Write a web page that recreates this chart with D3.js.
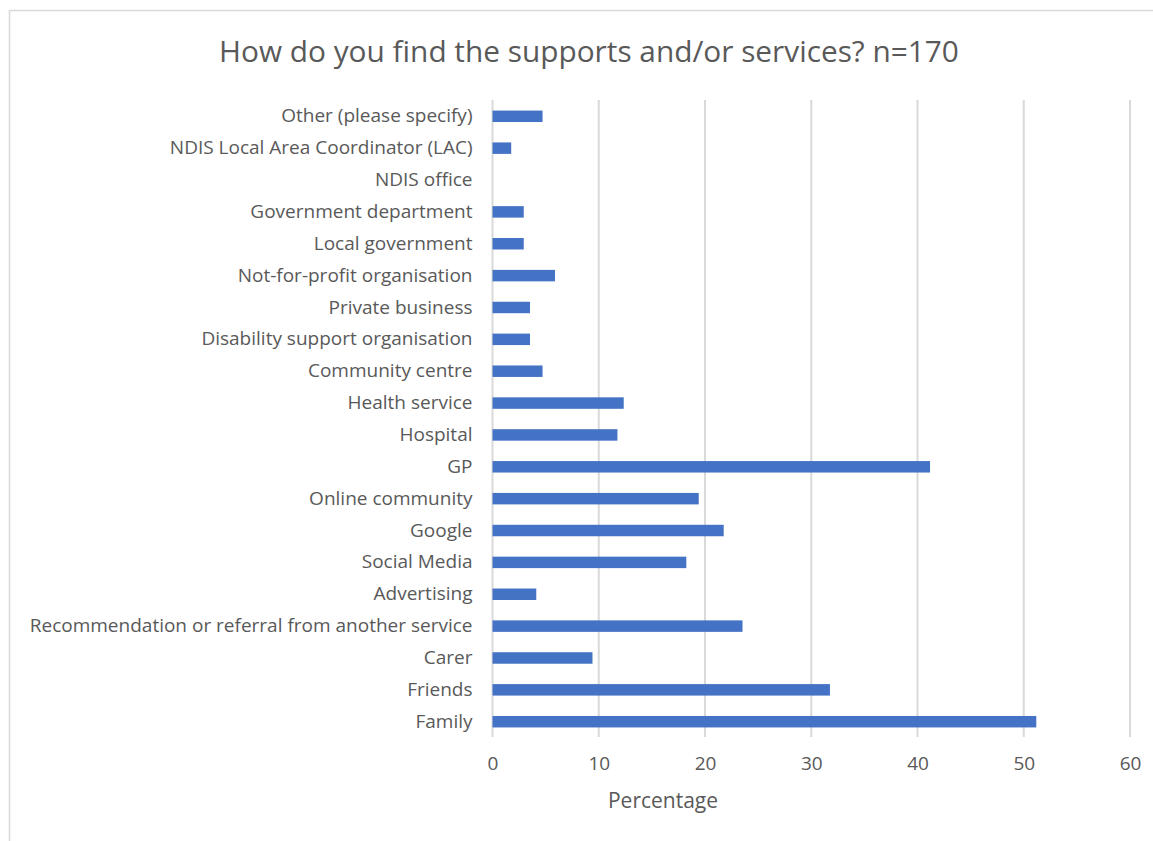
<!DOCTYPE html>
<html>
<head>
<meta charset="utf-8">
<script src="https://cdn.jsdelivr.net/npm/d3@7"></script>
<style>
  body { margin: 0; background: #fff; }
  text { font-family: "Open Sans", sans-serif; fill: #595959; }
</style>
</head>
<body>
<div class="chart"></div>
<script>
const categories = [
  'Other (please specify)',
  'NDIS Local Area Coordinator (LAC)',
  'NDIS office',
  'Government department',
  'Local government',
  'Not-for-profit organisation',
  'Private business',
  'Disability support organisation',
  'Community centre',
  'Health service',
  'Hospital',
  'GP',
  'Online community',
  'Google',
  'Social Media',
  'Advertising',
  'Recommendation or referral from another service',
  'Carer',
  'Friends',
  'Family'
]

// percentages (n=170)
const values = [4.71, 1.76, 0, 2.94, 2.94, 5.88, 3.53, 3.53, 4.71, 12.35, 11.76, 41.18,
  19.41, 21.76, 18.24, 4.12, 23.53, 9.41, 31.76, 51.18]

const xTicks = [0, 10, 20, 30, 40, 50, 60]
const title = 'How do you find the supports and/or services? n=170'
const xTitle = 'Percentage'

const svg = d3.select('.chart').append('svg')
  .attr('width', 1153)
  .attr('height', 841)

// chart frame
svg.append('rect')
  .attr('x', 9.5).attr('y', 10.5)
  .attr('width', 1160).attr('height', 850)
  .attr('fill', 'none')
  .attr('stroke', '#d9d9d9')
  .attr('stroke-width', 1.5)

const margin = {top: 101, left: 492.5}

const g = svg.append('g')
  .attr('transform', `translate(${margin.left}, ${margin.top})`)

const x = d3.scaleLinear()
  .domain([0, 60])
  .range([0, 1130 - margin.left])

const y = d3.scaleBand()
  .domain(categories)
  .range([0, 737 - margin.top])
  .paddingInner(0.64)
  .paddingOuter(0.3)

// gridlines
g.selectAll('.grid')
  .data(xTicks)
  .enter()
  .append('line')
  .attr('class', 'grid')
  .attr('x1', d => x(d)).attr('x2', d => x(d))
  .attr('y1', -1).attr('y2', y.range()[1])
  .attr('stroke', '#d9d9d9')
  .attr('stroke-width', 2)

// bars
g.selectAll('.bar')
  .data(categories)
  .enter()
  .append('rect')
  .attr('class', 'bar')
  .attr('x', x(0))
  .attr('y', d => y(d))
  .attr('width', (d, i) => x(values[i]) - x(0))
  .attr('height', y.bandwidth())
  .attr('fill', '#4472c4')

// y axis labels
const yAxis = g.append('g')
  .call(d3.axisLeft(y).tickSize(0).tickPadding(20))
yAxis.select('.domain').remove()
yAxis.selectAll('text')
  .style('font-size', '19px')
  .style('font-family', '"Open Sans", sans-serif')
  .attr('fill', '#595959')

// x axis labels
const xAxis = g.append('g')
  .attr('transform', `translate(0, ${y.range()[1]})`)
  .call(d3.axisBottom(x).tickValues(xTicks).tickSize(0).tickPadding(20))
xAxis.select('.domain').remove()
xAxis.selectAll('text')
  .style('font-size', '19px')
  .style('font-family', '"Open Sans", sans-serif')
  .attr('fill', '#595959')

// titles
svg.append('text')
  .attr('x', 589)
  .attr('y', 62)
  .attr('text-anchor', 'middle')
  .style('font-size', '29.8px')
  .text(title)

svg.append('text')
  .attr('x', 663)
  .attr('y', 808)
  .attr('text-anchor', 'middle')
  .style('font-size', '21px')
  .text(xTitle)
</script>
</body>
</html>
